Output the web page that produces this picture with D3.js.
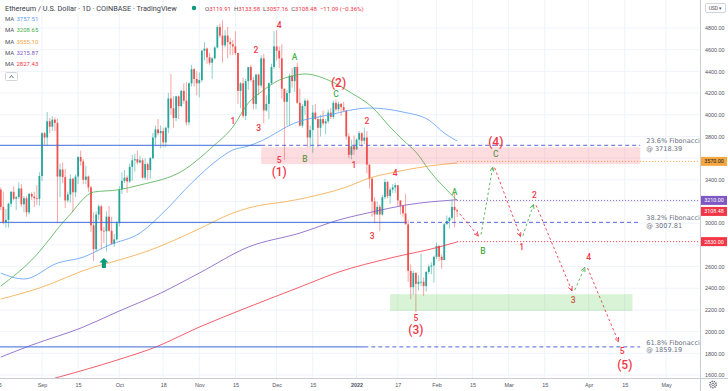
<!DOCTYPE html>
<html>
<head>
<meta charset="utf-8">
<script src="https://cdn.jsdelivr.net/npm/d3@7"></script>
<style>
  body { margin: 0; background: #fff; }
  svg { display: block; font-family: Roboto, "Noto Sans", sans-serif; }
</style>
</head>
<body>
<script>
// ---- data ----
var title = "Ethereum / U.S. Dollar \u00b7 1D \u00b7 COINBASE \u00b7 TradingView";
var lastOHLC = [["O", "3119.91"], ["H", "3133.58"], ["L", "3057.16"], ["C", "3108.48"]];
var lastChange = "\u221211.09 (\u22120.36%)";

var maValues = ["3757.51", "3208.65", "3555.10", "3215.87", "2827.43"];
var maColors = ["#5b9cf6", "#4caf50", "#f5a742", "#7e57c2", "#f23645"];

var candleStart = "2021-08-16";
// daily [open, high, low, close]
var ohlc = [
  // Aug 16 - 31
  [3310,3330,3120,3150],[3150,3290,2990,3010],[3010,3130,2960,3030],[3030,3190,2960,3180],
  [3180,3295,3150,3290],[3290,3340,3210,3225],[3225,3250,3120,3240],[3240,3375,3225,3320],
  [3320,3360,3150,3175],[3175,3250,3100,3230],[3230,3250,3060,3100],[3100,3280,3080,3270],
  [3270,3285,3215,3245],[3245,3290,3150,3230],[3230,3350,3170,3225],[3225,3470,3160,3435],
  // Sep
  [3435,3840,3390,3830],[3830,3840,3720,3790],[3790,4025,3715,3940],[3940,3970,3830,3890],
  [3890,3985,3850,3955],[3955,3975,3850,3925],[3925,3965,3000,3430],[3430,3550,3240,3495],
  [3495,3560,3370,3425],[3425,3500,3140,3210],[3210,3290,3190,3265],[3265,3450,3190,3410],
  [3410,3420,3100,3285],[3285,3450,3240,3430],[3430,3620,3360,3610],[3610,3670,3530,3570],
  [3570,3590,3360,3400],[3400,3530,3360,3430],[3430,3440,3290,3330],[3330,3345,2920,2980],
  [2980,3100,2650,2760],[2760,3110,2740,3080],[3080,3175,3030,3155],[3155,3170,2760,2930],
  [2930,2965,2820,2925],[2925,3110,2740,3060],[3060,3160,2920,2930],[2930,3060,2800,2810],
  [2810,2900,2780,2850],[2850,3020,2840,3000],
  // Oct
  [3000,3340,2970,3310],[3310,3470,3270,3390],[3390,3490,3370,3420],[3420,3440,3280,3385],
  [3385,3550,3370,3520],[3520,3630,3390,3580],[3580,3640,3475,3590],[3590,3670,3540,3560],
  [3560,3620,3550,3580],[3580,3600,3410,3420],[3420,3600,3400,3545],[3545,3560,3400,3490],
  [3490,3610,3410,3600],[3600,3830,3590,3790],[3790,3900,3720,3865],[3865,3960,3810,3830],
  [3830,3900,3690,3850],[3850,3880,3700,3745],[3745,3890,3700,3880],[3880,4200,3830,4150],
  [4150,4375,4000,4060],[4060,4170,3880,3970],[3970,4175,3940,4170],[4170,4180,3960,4080],
  [4080,4230,4070,4220],[4220,4290,4100,4130],[4130,4300,3900,3930],[3930,4300,3900,4290],
  [4290,4460,4260,4420],[4420,4430,4260,4330],[4330,4400,4180,4290],
  // Nov
  [4290,4390,4160,4320],[4320,4600,4300,4590],[4590,4670,4500,4610],[4610,4620,4470,4530],
  [4530,4570,4460,4480],[4480,4530,4330,4520],[4520,4630,4510,4620],[4620,4825,4610,4810],
  [4810,4840,4710,4730],[4730,4870,4480,4640],[4640,4780,4620,4730],[4730,4810,4520,4670],
  [4670,4710,4550,4650],[4650,4690,4550,4630],[4630,4770,4550,4570],[4570,4570,4100,4220],
  [4220,4300,4060,4290],[4290,4340,3970,3990],[3990,4330,3950,4310],[4310,4440,4230,4440],
  [4440,4460,4300,4320],[4320,4350,4050,4100],[4100,4380,4050,4370],[4370,4380,4180,4270],
  [4270,4550,4250,4520],[4520,4560,3920,4040],[4040,4180,4030,4100],[4100,4300,3960,4290],
  [4290,4470,4280,4440],[4440,4770,4420,4630],
  // Dec
  [4630,4780,4500,4590],[4590,4630,4430,4520],[4520,4650,4150,4240],[4240,4240,3580,4120],
  [4120,4230,3900,4200],[4200,4380,3900,4360],[4360,4430,4250,4310],[4310,4440,4210,4440],
  [4440,4480,4100,4110],[4110,4240,3890,3900],[3900,4100,3880,4080],[4080,4150,4000,4130],
  [4130,4140,3700,3790],[3790,3900,3700,3860],[3860,4090,3650,4020],[4020,4100,3950,3960],
  [3960,3980,3700,3880],[3880,4000,3800,3960],[3960,4040,3900,3920],[3920,3960,3820,3940],
  [3940,4050,3920,4020],[4020,4060,3960,3980],[3980,4130,3960,4110],[4110,4140,4030,4050],
  [4050,4120,4030,4100],[4100,4110,3990,4070],[4070,4120,4030,4040],[4040,4040,3770,3800],
  [3800,3830,3600,3630],[3630,3770,3590,3710],[3710,3810,3630,3680],
  // Jan
  [3680,3780,3680,3770],[3770,3850,3720,3830],[3830,3840,3700,3760],[3760,3880,3730,3790],
  [3790,3850,3460,3540],[3540,3540,3320,3410],[3410,3420,3060,3200],[3200,3240,3000,3080],
  [3080,3200,3080,3150],[3150,3170,2930,3080],[3080,3260,3070,3240],[3240,3410,3220,3380],
  [3380,3390,3230,3250],[3250,3330,3180,3310],[3310,3360,3280,3330],[3330,3370,3280,3350],
  [3350,3350,3160,3210],[3210,3210,3080,3160],[3160,3170,3060,3090],[3090,3270,2990,2990],
  [2990,3030,2460,2560],[2560,2620,2300,2410],[2410,2560,2340,2540],[2540,2550,2180,2440],
  [2440,2520,2380,2460],[2460,2720,2420,2460],[2460,2500,2330,2420],[2420,2560,2370,2550],
  [2550,2620,2530,2600],[2600,2640,2530,2610],[2610,2700,2450,2690],
  // Feb 1 - 9
  [2690,2820,2670,2790],[2790,2800,2650,2690],[2690,2710,2580,2660],[2660,3000,2660,2990],
  [2990,3070,2990,3020],[3020,3060,2950,3050],[3050,3220,3030,3150],[3150,3280,2960,3120],
  [3119.91,3133.58,3057.16,3108.48]
];

var maBlue = [["2021-08-16",2540],["2021-08-25",2485],["2021-09-07",2632],["2021-09-17",2687],
  ["2021-09-27",2798],["2021-10-09",2909],["2021-10-19",3121],["2021-10-29",3370],["2021-11-08",3582],
  ["2021-11-14",3675],["2021-11-20",3711],["2021-11-25",3758],["2021-12-08",3924],["2021-12-21",3997],
  ["2022-01-06",4062],["2022-01-19",4025],["2022-01-29",3951],["2022-02-04",3831],["2022-02-09",3758]];
var maGreen = [["2021-08-16",2420],["2021-08-28",2660],["2021-09-11",3057],["2021-09-21",3287],
  ["2021-09-30",3306],["2021-10-09",3352],["2021-10-26",3490],["2021-11-06",3702],["2021-11-14",3887],
  ["2021-11-20",4108],["2021-11-25",4210],["2021-12-02",4320],["2021-12-07",4357],["2021-12-12",4376],
  ["2021-12-21",4320],["2021-12-30",4200],["2022-01-07",4071],["2022-01-14",3887],["2022-01-19",3767],
  ["2022-01-24",3656],["2022-01-30",3462],["2022-02-05",3306],["2022-02-09",3209]];
var maOrange = [["2021-08-16",2300],["2021-08-31",2402],["2021-09-21",2595],["2021-09-28",2641],
  ["2021-10-13",2752],["2021-10-31",2937],["2021-11-14",3093],["2021-11-20",3140],["2021-12-08",3213],
  ["2021-12-28",3333],["2022-01-06",3416],["2022-01-16",3472],["2022-01-29",3527],["2022-02-09",3555]];
var maPurple = [["2021-08-16",1765],["2021-08-28",1876],["2021-09-17",2042],["2021-09-30",2180],
  ["2021-10-17",2355],["2021-11-01",2540],["2021-11-20",2780],["2021-12-10",2909],["2021-12-25",3029],
  ["2022-01-07",3103],["2022-01-20",3167],["2022-02-09",3216]];
var maRed = [["2021-09-06",1571],["2021-09-30",1737],["2021-10-15",1857],["2021-11-01",2042],
  ["2021-11-20",2226],["2021-12-10",2411],["2021-12-25",2549],["2022-01-14",2678],["2022-02-02",2780],
  ["2022-02-09",2827]];

// fib levels: [label, value, date where the solid ray stops]
var fibLevels = [["23.6%", 3718.39, "2021-11-25"], ["38.2%", 3007.81, "2022-01-19"], ["61.8%", 1859.19, "2022-01-04"]];
var fibEnd = "2022-04-21";
var resistZone = ["2021-11-25", "2022-04-21", 3545, 3700];
var supportZone = ["2022-01-14", "2022-04-18", 2190, 2345];
var priceLevels = [[3570, "#f5a742", "#131722"], [3210, "#7e57c2", "#fff"], [2830, "#f23645", "#fff"]];
var lastPrice = 3108.48;
var levelsFrom = "2022-02-09";

var projection = [["2022-02-09",3115],["2022-02-18",2860],["2022-02-23",3545],["2022-03-06",2850],
  ["2022-03-11",3200],["2022-03-26",2350],["2022-03-31",2620],["2022-04-13",1880]];

var impulseLabels = [["2021-11-14",3942,"1"],["2021-11-23",4597,"2"],["2021-11-24",3877,"3"],
  ["2021-12-02",4828,"4"],["2021-12-02",3582,"5"],["2021-12-02",3472,"(1)"],["2021-12-25",4293,"(2)"],
  ["2021-12-31",3536,"1"],["2022-01-05",3942,"2"],["2022-01-07",2881,"3"],["2022-01-16",3462,"4"],
  ["2022-01-24",2125,"5"],["2022-01-24",2014,"(3)"],["2022-02-24",3748,"(4)"],["2022-03-06",2780,"1"],
  ["2022-03-11",3259,"2"],["2022-03-26",2291,"3"],["2022-04-01",2687,"4"],["2022-04-14",1818,"5"],
  ["2022-04-15",1690,"(5)"]];
var correctiveLabels = [["2021-12-08",4532,"A"],["2021-12-12",3592,"B"],["2021-12-24",4191,"C"],
  ["2022-02-08",3287,"A"],["2022-02-19",2743,"B"],["2022-02-24",3638,"C"]];
var bounceArrow = ["2021-09-25", 2680];

var tickDates = ["2021-08-15","2021-09-01","2021-09-15","2021-10-01","2021-10-18","2021-11-01","2021-11-15",
  "2021-12-01","2021-12-15","2022-01-01","2022-01-17","2022-02-01","2022-02-15","2022-03-01","2022-03-15",
  "2022-04-01","2022-04-15","2022-05-01"];
var tickLabels = ["15","Sep","15","Oct","18","Nov","15","Dec","15","2022","17","Feb","15","Mar","15","Apr","15","May"];
var priceTicks = d3.range(1600, 4801, 200);

// ---- layout ----
var width = 728, height = 391, plotW = 700, plotH = 378;
var red = "#f23645", green = "#4caf50", up = "#26a69a", down = "#ef5350";

var x = d3.scaleUtc().domain([new Date("2021-09-01"), new Date("2022-05-01")]).range([42, 666]);
var y = d3.scaleLinear().domain([1600, 4800]).range([375, 28]);
var day = function (s) { return new Date(s); };

var svg = d3.select("body").append("svg").attr("width", width).attr("height", height);

svg.append("defs").append("clipPath").attr("id", "plot")
  .append("rect").attr("width", plotW).attr("height", plotH);

[["arrRed", red], ["arrGreen", green]].forEach(function (m) {
  svg.select("defs").append("marker")
    .attr("id", m[0]).attr("viewBox", "0 0 6 6").attr("refX", 5.5).attr("refY", 3)
    .attr("markerWidth", 5).attr("markerHeight", 5).attr("markerUnits", "userSpaceOnUse")
    .attr("orient", "auto")
    .append("path").attr("d", "M0,0.5 L5.5,3 L0,5.5")
    .attr("fill", "none").attr("stroke", m[1]).attr("stroke-width", 1);
});

var grid = svg.append("g");
grid.selectAll(".vg").data(tickDates).enter().append("line")
  .attr("x1", function (d) { return x(day(d)); }).attr("x2", function (d) { return x(day(d)); })
  .attr("y1", 0).attr("y2", plotH).attr("stroke", "#f0f3fa").attr("stroke-width", 1);
grid.selectAll(".hg").data(priceTicks).enter().append("line")
  .attr("x1", 0).attr("x2", plotW)
  .attr("y1", function (d) { return y(d); }).attr("y2", function (d) { return y(d); })
  .attr("stroke", "#f0f3fa").attr("stroke-width", 1);

var plot = svg.append("g").attr("clip-path", "url(#plot)");

// candles
var candles = ohlc.map(function (r, i) {
  return { date: d3.utcDay.offset(day(candleStart), i), o: r[0], h: r[1], l: r[2], c: r[3] };
});
var cg = plot.append("g");
cg.selectAll(".wick").data(candles).enter().append("line")
  .attr("x1", function (d) { return x(d.date); }).attr("x2", function (d) { return x(d.date); })
  .attr("y1", function (d) { return y(d.h); }).attr("y2", function (d) { return y(d.l); })
  .attr("stroke", function (d) { return d.c >= d.o ? up : down; })
  .attr("stroke-opacity", 0.75).attr("stroke-width", 0.7);
cg.selectAll(".body").data(candles).enter().append("rect")
  .attr("x", function (d) { return x(d.date) - 0.9; }).attr("width", 1.8)
  .attr("y", function (d) { return y(Math.max(d.o, d.c)); })
  .attr("height", function (d) { return Math.max(0.8, Math.abs(y(d.o) - y(d.c))); })
  .attr("fill", function (d) { return d.c >= d.o ? up : down; });

// moving averages
var maLine = d3.line().curve(d3.curveMonotoneX)
  .x(function (d) { return x(day(d[0])); }).y(function (d) { return y(d[1]); });
[maBlue, maGreen, maOrange, maPurple, maRed].forEach(function (s, i) {
  plot.append("path").datum(s).attr("d", maLine)
    .attr("fill", "none").attr("stroke", maColors[i]).attr("stroke-width", 0.8);
});

// fibonacci / horizontal rays
fibLevels.forEach(function (f) {
  plot.append("line").attr("x1", 0).attr("x2", x(day(f[2])))
    .attr("y1", y(f[1])).attr("y2", y(f[1]))
    .attr("stroke", "#3d6ad6").attr("stroke-width", 1);
  plot.append("line").attr("x1", x(day(f[2]))).attr("x2", x(day(fibEnd)))
    .attr("y1", y(f[1])).attr("y2", y(f[1]))
    .attr("stroke", "#5864d6").attr("stroke-width", 1).attr("stroke-dasharray", "4,3");
  var t = plot.append("text").attr("x", x(day(fibEnd)) + 6).attr("y", y(f[1]) - 2)
    .attr("fill", "#6b7284").style("font-size", "6.6px").style("font-family", "'DejaVu Sans', sans-serif");
  t.append("tspan").text(f[0] + " Fibonacci");
  t.append("tspan").attr("x", x(day(fibEnd)) + 6).attr("dy", 7.5).text("@ " + f[1].toFixed(2));
});

// dotted price levels
priceLevels.forEach(function (p) {
  plot.append("line").attr("x1", x(day(levelsFrom))).attr("x2", plotW)
    .attr("y1", y(p[0])).attr("y2", y(p[0]))
    .attr("stroke", p[1]).attr("stroke-width", 1).attr("stroke-dasharray", "1,2");
});

// projected waves
var seg = plot.append("g");
for (var i = 0; i < projection.length - 1; i++) {
  var a = [x(day(projection[i][0])), y(projection[i][1])];
  var b = [x(day(projection[i + 1][0])), y(projection[i + 1][1])];
  var dx = b[0] - a[0], dy = b[1] - a[1], len = Math.sqrt(dx * dx + dy * dy);
  var downMove = projection[i + 1][1] < projection[i][1];
  seg.append("line")
    .attr("x1", a[0] + dx / len * 4).attr("y1", a[1] + dy / len * 4)
    .attr("x2", b[0] - dx / len * 3).attr("y2", b[1] - dy / len * 3)
    .attr("stroke", downMove ? red : green).attr("stroke-width", 0.9)
    .attr("stroke-dasharray", "2.5,2.5")
    .attr("marker-end", downMove ? "url(#arrRed)" : "url(#arrGreen)");
}

// wave labels
function labels(list, color) {
  plot.selectAll(null).data(list).enter().append("text")
    .attr("x", function (d) { return x(day(d[0])); })
    .attr("y", function (d) { return y(d[1]); })
    .attr("dy", "0.35em").attr("text-anchor", "middle")
    .attr("fill", color)
    .style("font-size", function (d) { return d[2].length > 1 ? "12px" : "8.5px"; })
    .style("font-weight", 500)
    .text(function (d) { return d[2]; });
}
labels(impulseLabels, red);
labels(correctiveLabels, green);

// zones
plot.append("rect").attr("x", x(day(resistZone[0]))).attr("width", x(day(resistZone[1])) - x(day(resistZone[0])))
  .attr("y", y(resistZone[3])).attr("height", y(resistZone[2]) - y(resistZone[3]))
  .attr("fill", "rgba(242,54,69,0.17)");
plot.append("rect").attr("x", x(day(supportZone[0]))).attr("width", x(day(supportZone[1])) - x(day(supportZone[0])))
  .attr("y", y(supportZone[3])).attr("height", y(supportZone[2]) - y(supportZone[3]))
  .attr("fill", "rgba(76,200,70,0.22)");

// bounce arrow
plot.append("path")
  .attr("transform", "translate(" + x(day(bounceArrow[0])) + "," + y(bounceArrow[1]) + ")")
  .attr("d", "M0,0 L4.5,4.5 L2,4.5 L2,10 L-2,10 L-2,4.5 L-4.5,4.5 Z")
  .attr("fill", "#089981");

// axes
svg.append("line").attr("x1", 0).attr("x2", width).attr("y1", plotH + 0.5).attr("y2", plotH + 0.5)
  .attr("stroke", "#c9ccd4");
svg.append("line").attr("x1", plotW + 0.5).attr("x2", plotW + 0.5).attr("y1", 0).attr("y2", height)
  .attr("stroke", "#c9ccd4");

var xAxis = svg.append("g").attr("transform", "translate(0," + plotH + ")")
  .call(d3.axisBottom(x).tickValues(tickDates.map(day)).tickSize(0).tickPadding(5)
    .tickFormat(function (d, i) { return tickLabels[i]; }));
xAxis.select(".domain").remove();
xAxis.selectAll("text").attr("fill", "#50535e").style("font-size", "5.4px")
  .style("font-weight", function (d, i) { return tickLabels[i] === "2022" ? 700 : 400; });

// price labels hidden where a coloured price box sits on the scale
var boxes = priceLevels.concat([[lastPrice, red, "#fff"]]);
var yAxis = svg.append("g").attr("transform", "translate(" + plotW + ",0)")
  .call(d3.axisRight(y).tickSize(0).tickPadding(5).tickFormat(d3.format(".2f"))
    .tickValues(priceTicks.filter(function (t) {
      return !boxes.some(function (b) { return Math.abs(y(b[0]) - y(t)) < 8; });
    })));
yAxis.select(".domain").remove();
yAxis.selectAll("text").attr("fill", "#50535e").style("font-size", "5.4px");

// price boxes on the axis
boxes.forEach(function (p) {
  svg.append("rect").attr("x", plotW + 1).attr("y", y(p[0]) - 4.5).attr("width", 26).attr("height", 9)
    .attr("fill", p[1]);
  svg.append("text").attr("x", plotW + 14).attr("y", y(p[0])).attr("dy", "0.35em")
    .attr("text-anchor", "middle").attr("fill", p[2]).style("font-size", "5.4px")
    .text(p[0].toFixed(2));
});

// USD box and gear
svg.append("rect").attr("x", 705.5).attr("y", 3.5).attr("width", 20).attr("height", 9)
  .attr("fill", "#fff").attr("stroke", "#d1d4dc").attr("rx", 1.5);
svg.append("text").attr("x", 715.5).attr("y", 8).attr("dy", "0.35em").attr("text-anchor", "middle")
  .attr("fill", "#50535e").style("font-size", "5px").text("USD \u25be");
svg.append("circle").attr("cx", 713).attr("cy", 384.5).attr("r", 3.2)
  .attr("fill", "none").attr("stroke", "#50535e").attr("stroke-width", 1.4).attr("stroke-dasharray", "1.2,1");
svg.append("circle").attr("cx", 713).attr("cy", 384.5).attr("r", 1.3)
  .attr("fill", "none").attr("stroke", "#50535e").attr("stroke-width", 0.7);

// header
svg.append("text").attr("x", 5).attr("y", 10.5).attr("fill", "#3b3e48")
  .style("font-size", "7.3px").text(title);
svg.append("circle").attr("cx", 194).attr("cy", 8).attr("r", 2.2).attr("fill", "#089981");
var ot = svg.append("text").attr("x", 205).attr("y", 10.5).style("font-size", "6px");
lastOHLC.forEach(function (p, i) {
  ot.append("tspan").attr("fill", "#50535e").attr("dx", i ? 3 : 0).text(p[0]);
  ot.append("tspan").attr("fill", red).text(p[1]);
});
ot.append("tspan").attr("fill", red).attr("dx", 3).text(lastChange);

// MA legend
var leg = svg.append("g").style("font-size", "6px");
maValues.forEach(function (v, i) {
  var ly = 21 + i * 11.3;
  leg.append("text").attr("x", 5).attr("y", ly).attr("fill", "#50535e").text("MA");
  leg.append("text").attr("x", 16.5).attr("y", ly).attr("fill", maColors[i]).text(v);
});
svg.append("rect").attr("x", 5.5).attr("y", 72.5).attr("width", 12).attr("height", 8)
  .attr("fill", "#fff").attr("stroke", "#d1d4dc").attr("rx", 1);
svg.append("path").attr("d", "M9.5,78 L11.5,75.5 L13.5,78").attr("fill", "none")
  .attr("stroke", "#50535e").attr("stroke-width", 0.8);
</script>
</body>
</html>
